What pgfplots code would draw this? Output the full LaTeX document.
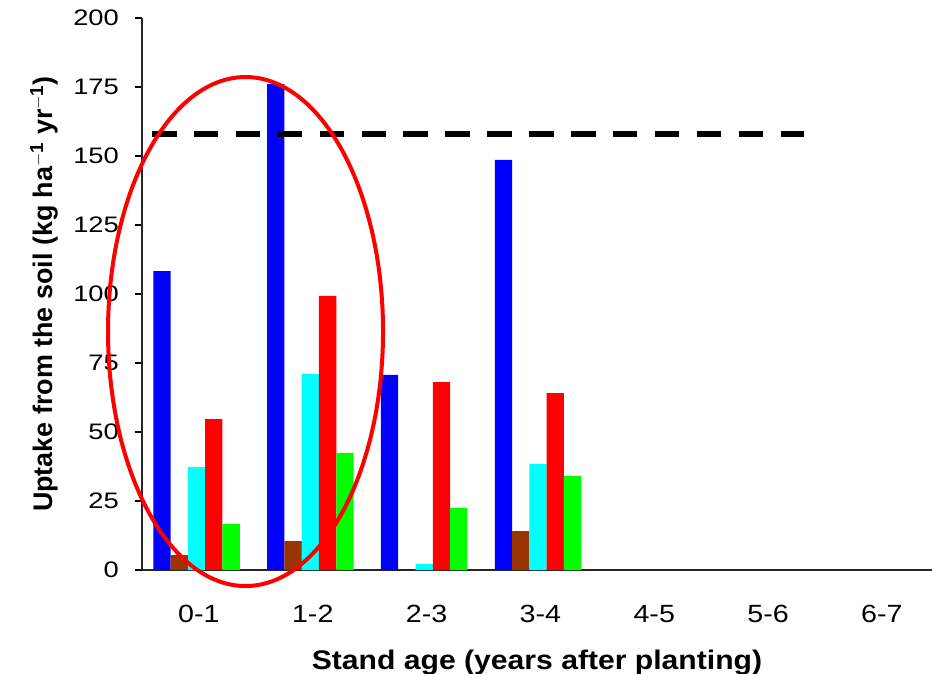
\documentclass[border=0pt]{standalone}
\usepackage{fontspec}
\setmainfont{Liberation Sans}
\usepackage{pgfplots}
\pgfplotsset{compat=1.18}
\usetikzlibrary{calc}
\definecolor{cBlue}{RGB}{0,0,255}
\definecolor{cBrown}{RGB}{153,51,0}
\definecolor{cCyan}{RGB}{0,255,255}
\definecolor{cRed}{RGB}{255,0,0}
\definecolor{cGreen}{RGB}{0,255,0}
\begin{document}
\begin{tikzpicture}
\begin{axis}[
  scale only axis, width=790bp, height=552bp,
  xmin=-0.5, xmax=6.44, ymin=0, ymax=200,
  axis lines=left,
  axis line style={-, line width=1.6bp, black!85},
  clip=false,
  /pgf/number format/assume math mode=true,
  ytick={0,25,...,200},
  xtick={0,1,2,3,4,5,6},
  xticklabels={0-1,1-2,2-3,3-4,4-5,5-6,6-7},
  minor xtick={-0.5,0.5,1.5,2.5,3.5,4.5,5.5},
  tick align=outside,
  major tick length=7bp,
  minor tick length=8bp,
  xtick style={draw=none},
  ytick style={line width=1.2bp, black},
  minor x tick style={line width=1.2bp, black},
  yticklabel style={font=\fontsize{22.5}{25}\selectfont, xscale=1.22, anchor=east, inner sep=0pt, xshift=-13bp},
  xticklabel style={font=\fontsize{25}{28}\selectfont, xscale=1.15, inner sep=0pt, yshift=-28bp},
  xlabel={\textbf{Stand age (years after planting)}},
  ylabel={\textbf{Uptake from the soil (kg ha$^{\mathbf{-1}}$ yr$^{\mathbf{-1}}$)}},
  xlabel style={font=\fontsize{27}{30}\selectfont, xscale=1.12, at={($(rel axis cs:0.5,0)+(0bp,-99bp)$)}, anchor=base},
  ylabel style={font=\fontsize{27}{30}\selectfont, at={($(rel axis cs:0,0.5)+(-98bp,0bp)$)}, anchor=center},
]
\addplot[ybar, bar width=17.3bp, bar shift=-37bp, fill=cBlue, draw=none]
  coordinates {(0,108.3) (1,176) (2,70.7) (3,148.6)};
\addplot[ybar, bar width=17.3bp, bar shift=-19.6bp, fill=cBrown, draw=none]
  coordinates {(0,5.4) (1,10.5) (3,14.1)};
\addplot[ybar, bar width=17.3bp, bar shift=-2.4bp, fill=cCyan, draw=none]
  coordinates {(0,37.3) (1,71) (2,2.2) (3,38.4)};
\addplot[ybar, bar width=17.3bp, bar shift=14.9bp, fill=cRed, draw=none]
  coordinates {(0,54.7) (1,99.3) (2,68.1) (3,64.1)};
\addplot[ybar, bar width=17.3bp, bar shift=32.2bp, fill=cGreen, draw=none]
  coordinates {(0,16.7) (1,42.4) (2,22.5) (3,34.1)};
\addplot[sharp plot, black, line width=5.5bp, dash pattern=on 24.5bp off 17.4bp, mark=none]
  coordinates {(-0.412,158) (5.317,158)};
\draw[cRed, line width=4bp] (axis cs:0.4095,86.4) ellipse [x radius=137.5bp, y radius=254.5bp];
\coordinate (bl) at (rel axis cs:0,0);
\coordinate (tr) at (rel axis cs:1,1);
\end{axis}
\pgfresetboundingbox
\path ($(bl)+(-142bp,-104bp)$) rectangle ($(tr)+(0bp,18bp)$);
\end{tikzpicture}
\end{document}
